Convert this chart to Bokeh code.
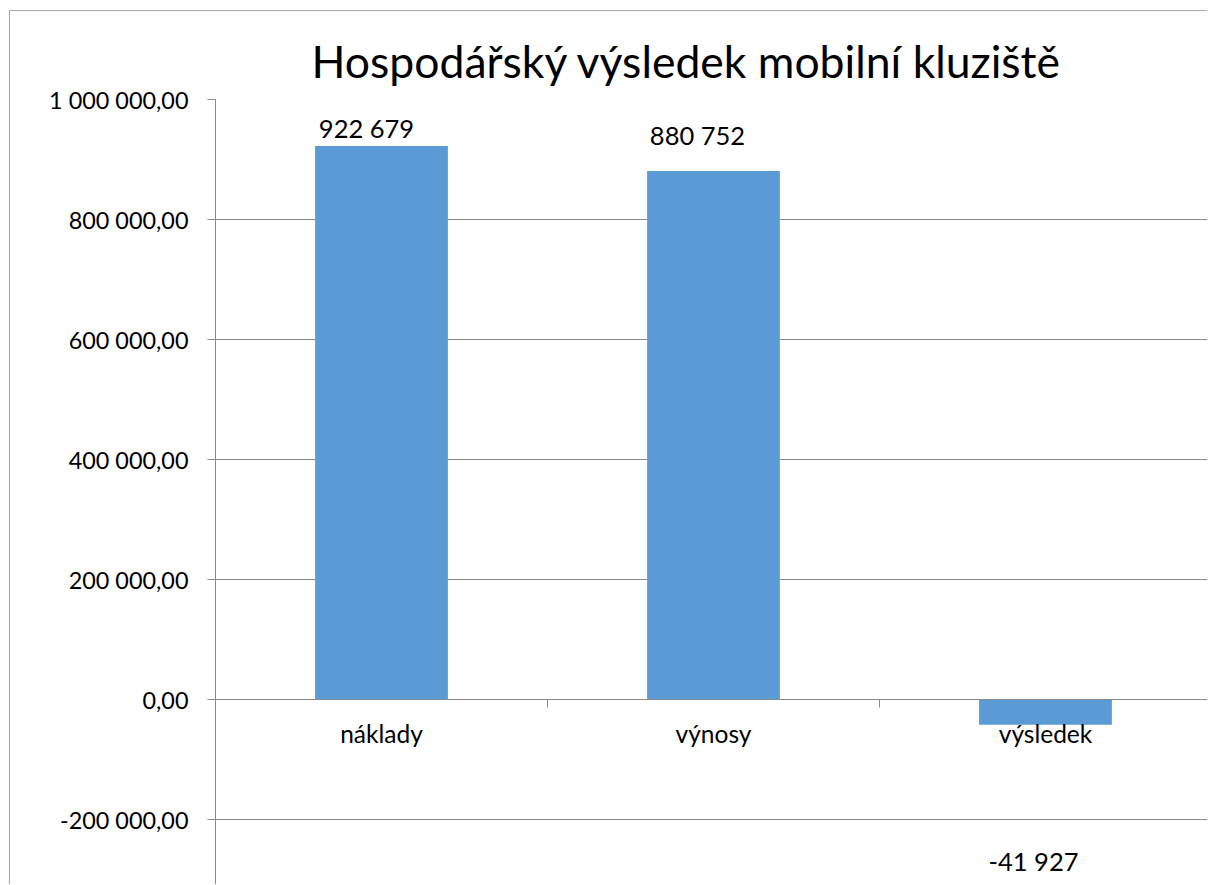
from bokeh.plotting import figure
from bokeh.models import Range1d, LinearAxis, FixedTicker, ColumnDataSource, Grid
from bokeh.core.properties import value
from bokeh.embed import file_html
from bokeh.resources import INLINE

# ---- data ----
title_text = "Hospodářský výsledek mobilní kluziště"
categories = ["náklady", "výnosy", "výsledek"]
values = [922679, 880752, -41927]
y_ticks = [-200000, 0, 200000, 400000, 600000, 800000, 1000000]
y_tick_labels = ["-200 000,00", "0,00", "200 000,00", "400 000,00",
                 "600 000,00", "800 000,00", "1 000 000,00"]
y_min, y_max = -310000, 1000000

# ---- style ----
FONT = "Lato"
BAR = "#5B9BD5"
GRID = "#8a8a8a"
label_dx = [-15, -16, -12]     # pixel offsets of the data labels
label_dy = [-18, -36, 136]

x = [i + 0.5 for i in range(len(categories))]
labels = [f"{v:,}".replace(",", " ") for v in values]
src = ColumnDataSource(dict(x=x, top=values, label=labels, dx=label_dx, dy=label_dy))

p = figure(width=1198, height=874, output_backend="svg", toolbar_location=None,
           x_range=Range1d(0, 2.991), y_range=Range1d(y_min, y_max),
           min_border_left=205, min_border_top=88, min_border_right=0, min_border_bottom=0,
           x_axis_type=None, y_axis_type=None)
p.outline_line_color = None
p.background_fill_color = "white"
p.border_fill_color = "white"
p.styles = {"margin-left": "9px", "margin-top": "10px",
            "border-left": "1px solid #a6a6a6", "border-top": "1px solid #a6a6a6"}

p.title.text = title_text
p.title.align = "left"
p.title.offset = 96
p.title.standoff = 26
p.title.text_font = FONT
p.title.text_font_size = "44.5px"
p.title.text_font_style = "normal"
p.title.text_color = "black"

yticker = FixedTicker(ticks=y_ticks)
yaxis = LinearAxis(ticker=yticker,
                   major_label_overrides={t: l for t, l in zip(y_ticks, y_tick_labels)})
yaxis.axis_line_color = GRID
yaxis.major_tick_line_color = GRID
yaxis.minor_tick_line_color = None
yaxis.major_tick_out = 8
yaxis.major_tick_in = 0
yaxis.major_label_standoff = 19
yaxis.major_label_text_font = FONT
yaxis.major_label_text_font_size = "23.4px"
yaxis.major_label_text_color = "black"
p.add_layout(yaxis, "left")

p.add_layout(Grid(dimension=1, ticker=yticker, grid_line_color=GRID, grid_line_width=1))

p.vbar(x="x", top="top", bottom=0, width=0.4, source=src, fill_color=BAR, line_color=None)

# category axis at zero: tick marks between categories
xticks_axis = LinearAxis(ticker=FixedTicker(ticks=list(range(1, len(categories)))),
                         fixed_location=0)
xticks_axis.axis_line_color = GRID
xticks_axis.major_tick_line_color = GRID
xticks_axis.minor_tick_line_color = None
xticks_axis.major_tick_out = 8
xticks_axis.major_tick_in = 0
xticks_axis.major_label_text_color = None
p.add_layout(xticks_axis, "below")

# category labels
xlab_axis = LinearAxis(ticker=FixedTicker(ticks=x), fixed_location=0,
                       major_label_overrides={xi: c for xi, c in zip(x, categories)})
xlab_axis.axis_line_color = None
xlab_axis.major_tick_line_color = None
xlab_axis.minor_tick_line_color = None
xlab_axis.major_tick_out = 0
xlab_axis.major_tick_in = 0
xlab_axis.major_label_standoff = 19
xlab_axis.major_label_text_font = FONT
xlab_axis.major_label_text_font_size = "24.5px"
xlab_axis.major_label_text_color = "black"
p.add_layout(xlab_axis, "below")

p.text(x="x", y="top", text="label", source=src, x_offset="dx", y_offset="dy",
       text_align="center", text_baseline="middle", text_font=value(FONT),
       text_font_size="25.5px", text_color="black")

open("out.html", "w").write(file_html(p, INLINE))
